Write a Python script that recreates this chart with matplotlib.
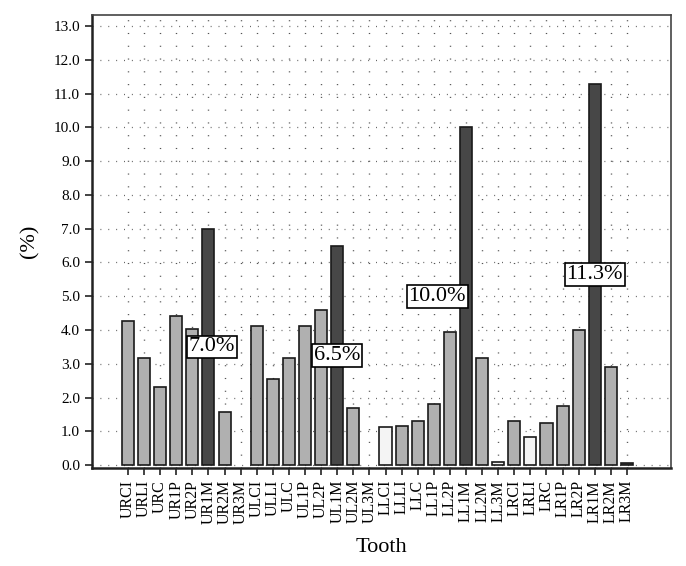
import matplotlib.pyplot as plt
import numpy as np

teeth = ['URCI', 'URLI', 'URC', 'UR1P', 'UR2P', 'UR1M', 'UR2M', 'UR3M',
         'ULCI', 'ULLI', 'ULC', 'UL1P', 'UL2P', 'UL1M', 'UL2M', 'UL3M',
         'LLCI', 'LLLI', 'LLC', 'LL1P', 'LL2P', 'LL1M', 'LL2M', 'LL3M',
         'LRCI', 'LRLI', 'LRC', 'LR1P', 'LR2P', 'LR1M', 'LR2M', 'LR3M']
percent = [4.28, 3.18, 2.32, 4.42, 4.04, 7.0, 1.58, 0.0,
           4.12, 2.56, 3.18, 4.12, 4.6, 6.5, 1.7, 0.0,
           1.13, 1.16, 1.29, 1.81, 3.93, 10.0, 3.18, 0.08,
           1.29, 0.84, 1.26, 1.74, 4.0, 11.3, 2.9, 0.05]
# bar shade group: 0 = light gray, 1 = dark (first molars), 2 = near white
shade = [0, 0, 0, 0, 0, 1, 0, 0,
         0, 0, 0, 0, 0, 1, 0, 0,
         2, 0, 0, 0, 0, 1, 0, 2,
         0, 2, 0, 0, 0, 1, 0, 1]
callout_teeth = ['UR1M', 'UL1M', 'LL1M', 'LR1M']
callout_text = ['7.0%', '6.5%', '10.0%', '11.3%']

shade_colors = {0: '#b0b0b0', 1: '#474747', 2: '#f4f4f4'}

plt.rcParams['font.family'] = ['Liberation Serif', 'DejaVu Serif']

fig = plt.figure(figsize=(6.86, 5.66), dpi=100)
ax = fig.add_axes([0.134, 0.173, 0.844, 0.8005])

x = np.arange(len(teeth))
ax.bar(x, percent, width=0.75, color=[shade_colors[s] for s in shade],
       edgecolor='#1a1a1a', linewidth=[1.2 if p > 0 else 0 for p in percent], zorder=3)

# dotted grid
for xi in x:
    ax.axvline(xi, color='#555555', linewidth=1.0, linestyle=(0, (0.8, 8.4)), zorder=1)
for yv in np.arange(0, 14):
    ax.axhline(yv, color='#666666', linewidth=0.9, linestyle=(0, (0.8, 5.5)), zorder=1)

# callout labels placed at half bar height
offsets = [0.2, 0.0, -1.8, 0.0]
for t, txt, dx in zip(callout_teeth, callout_text, offsets):
    i = teeth.index(t)
    ax.text(i + dx, percent[i] / 2, txt, ha='center', va='center', fontsize=16,
            zorder=5, bbox=dict(boxstyle='square,pad=0.08', fc='white', ec='black', lw=1.2))

ax.set_xlim(-2.24, 33.73)
ax.set_ylim(-0.09, 13.33)
ax.set_yticks(np.arange(0, 14))
ax.set_yticklabels(['%.1f' % v for v in np.arange(0, 14)], fontsize=11)
ax.set_xticks(x)
ax.set_xticklabels(teeth, rotation=90, fontsize=11.5)
ax.tick_params(direction='out', length=5, width=1.2, color='#222222')

for side in ['left', 'bottom']:
    ax.spines[side].set_linewidth(1.8)
    ax.spines[side].set_color('#222222')
for side in ['top', 'right']:
    ax.spines[side].set_linewidth(1.2)
    ax.spines[side].set_color('#444444')

ax.set_xlabel('Tooth', fontsize=16, labelpad=10)
ax.set_ylabel('(%)', fontsize=16, labelpad=10)

fig.savefig('out.png', dpi=100)
